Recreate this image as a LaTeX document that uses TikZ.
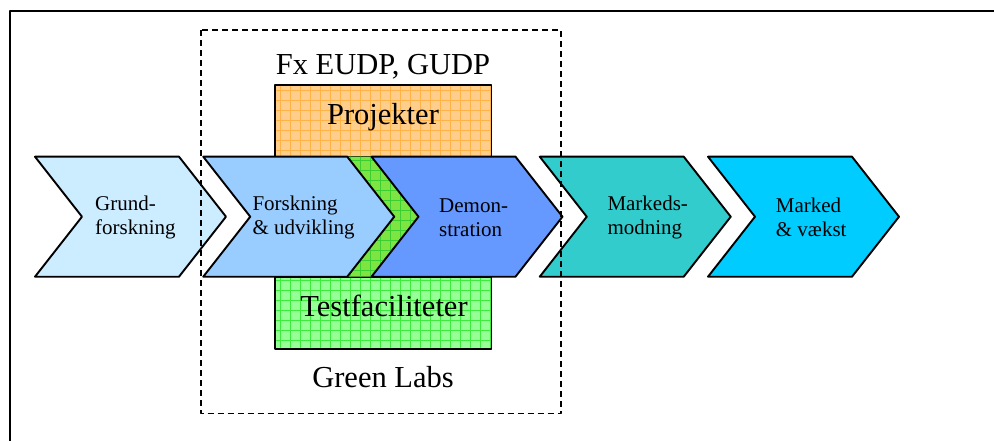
\documentclass[tikz,border=0pt]{standalone}
\usepackage{fontspec}
\setmainfont{Liberation Serif}
\definecolor{grundblue}{RGB}{204,236,255}
\definecolor{forskblue}{RGB}{153,204,255}
\definecolor{demoblue}{RGB}{102,153,255}
\definecolor{modteal}{RGB}{51,204,204}
\definecolor{markcyan}{RGB}{0,204,255}
\definecolor{projfill}{RGB}{255,206,140}
\definecolor{projgrid}{RGB}{255,178,70}
\definecolor{testfill}{RGB}{150,255,150}
\definecolor{testgrid}{RGB}{60,235,60}
\definecolor{stripfill}{RGB}{125,228,65}
\definecolor{stripgrid}{RGB}{60,205,50}

\begin{document}
\begin{tikzpicture}[line cap=round,line join=round,x=1pt,y=-1pt,
	chevron/.style={line width=1.9pt,draw=black},
	phase/.style={anchor=west,align=left,inner sep=0pt,font=\fontsize{21}{24}\selectfont},
	bigtext/.style={anchor=base,inner sep=0pt,font=\fontsize{30.5}{36}\selectfont},
	hatch/.style={line width=0.5pt,xstep=10pt,ystep=10pt}]
	\useasboundingbox (0,0) rectangle (994,441);
	% frame, open to the right and below
	\draw [line width=2pt,line cap=butt] (10,441) -- (10,11.5) -- (994,11.5);
	% Projekter
	\fill [projfill] (275,85) rectangle (491.5,156.7);
	\begin{scope}
		\clip (275,85) rectangle (491.5,156.7);
		\draw [hatch,color=projgrid] (270,80) grid (500,160);
	\end{scope}
	\draw [line width=1.9pt] (275,85) rectangle (491.5,156.7);
	% Testfaciliteter
	\fill [testfill] (275,276.7) rectangle (491.5,349);
	\begin{scope}
		\clip (275,276.7) rectangle (491.5,349);
		\draw [hatch,color=testgrid] (270,270) grid (500,355);
	\end{scope}
	\draw [line width=1.9pt] (275,276.7) rectangle (491.5,349);
	% green strip between the two middle chevrons
	\fill [stripfill] (347.25,156.7) -- (371.5,156.7) -- (418.5,216.7) -- (371.5,276.7) -- (347.25,276.7) -- (394.25,216.7) -- cycle;
	\begin{scope}
		\clip (347.25,156.7) -- (371.5,156.7) -- (418.5,216.7) -- (371.5,276.7) -- (347.25,276.7) -- (394.25,216.7) -- cycle;
		\draw [hatch,color=stripgrid] (340,150) grid (425,285);
	\end{scope}
	% chevrons
	\foreach \x/\col in {35/grundblue, 203.25/forskblue, 371.5/demoblue, 539.75/modteal, 708/markcyan}
		\filldraw [chevron,fill=\col] (\x,156.7) -- ++(144,0) -- ++(47,60) -- ++(-47,60) -- ++(-144,0) -- ++(47,-60) -- cycle;
	\node [phase] (grund) at (95,217.5) {Grund-\\forskning};
	\node [phase] (forsk) at (252.3,217.5) {Forskning\\\& udvikling};
	\node [phase] (demo) at (439,217.5) {Demon-\\stration};
	\node [phase] (modning) at (607.3,217.5) {Markeds-\\modning};
	\node [phase] (vaekst) at (775.7,217.5) {Marked\\\& vækst};
	% labels of the dashed frame
	\node [bigtext] (fx) at (383,75) {Fx EUDP, GUDP};
	\node [bigtext] (projekter) at (383,124.5) {Projekter};
	\node [bigtext] (test) at (384,316.7) {Testfaciliteter};
	\node [bigtext] (labs) at (383,387) {Green Labs};
	\draw [line width=1.3pt,line cap=butt,dash pattern=on 6pt off 4pt] (201,30) rectangle (561,413.3);
\end{tikzpicture}
\end{document}
